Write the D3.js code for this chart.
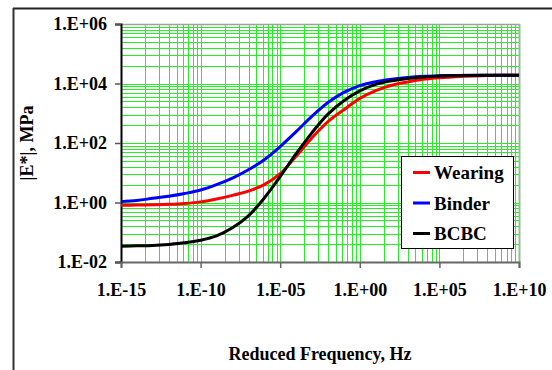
<!DOCTYPE html>
<html>
<head>
<meta charset="utf-8">
<script src="https://cdn.jsdelivr.net/npm/d3@7"></script>
<style>
html,body{margin:0;padding:0;background:#fff;}
svg{display:block;}
svg text{font-weight:bold;fill:#000;}
</style>
</head>
<body>
<svg id="chart" width="552" height="370"></svg>
<script>
// Reduced frequency (Hz) at each decade
const frequency = [1e-15,1e-14,1e-13,1e-12,1e-11,1e-10,1e-9,1e-8,1e-7,1e-6,1e-5,1e-4,1e-3,1e-2,1e-1,1e0,1e1,1e2,1e3,1e4,1e5,1e6,1e7,1e8,1e9,1e10];
// |E*| in MPa
const wearing = [0.81,0.82,0.84,0.87,0.93,1.05,1.32,1.74,2.4,4.0,9.3,36,151,525,1318,3162,5754,8710,11220,13800,15490,16980,17780,18620,19050,19050];
const binder  = [1.07,1.17,1.38,1.62,2.0,2.63,3.98,6.6,12.6,27.5,75.9,240,794,2291,5012,8511,11480,13800,15850,17380,18200,18620,19050,19050,19050,19050];
const bcbc    = [0.034,0.035,0.036,0.039,0.044,0.054,0.076,0.141,0.355,1.41,7.41,43.7,224,933,2630,5623,9333,12300,14790,16600,17780,18200,18620,19050,19050,19050];
const seriesNames = ["Wearing","Binder","BCBC"];
const seriesColors = ["#ff0000","#0000ff","#000000"];
const xTickValues = [1e-15,1e-10,1e-5,1e0,1e5,1e10];
const xTickLabels = ["1.E-15","1.E-10","1.E-05","1.E+00","1.E+05","1.E+10"];
const yTickValues = [1e-2,1e0,1e2,1e4,1e6];
const yTickLabels = ["1.E-02","1.E+00","1.E+02","1.E+04","1.E+06"];
const xTitle = "Reduced Frequency, Hz";
const yTitle = "|E*|, MPa";

const FONT = "'Liberation Serif','DejaVu Serif','Times New Roman',serif";
const svg = d3.select("#chart");
const L = 121, R = 519, T = 24, B = 262;
const x = d3.scaleLog().domain([1e-15,1e10]).range([L,R]);
const y = d3.scaleLog().domain([1e-2,1e6]).range([B,T]);

// outer frame
svg.append("line").attr("x1",13).attr("y1",8.5).attr("x2",552).attr("y2",8.5).attr("stroke","#222").attr("stroke-width",2);
svg.append("line").attr("x1",13.5).attr("y1",8).attr("x2",13.5).attr("y2",370).attr("stroke","#333").attr("stroke-width",2);

// grid: minor lines at k*major within each major interval
const grid = svg.append("g");
const gridColor = "#22f022";
function minorPositions(majors){
  const out = [];
  for (let i=0;i<majors.length-1;i++){
    const a = Math.log10(majors[i]), b = Math.log10(majors[i+1]);
    for (let k=1;k<=9;k++){
      out.push(Math.pow(10, a + (b-a)*Math.log10(k)));
    }
  }
  return out;
}
minorPositions(xTickValues).forEach(v=>{
  const px = Math.round(x(v))+0.5;
  grid.append("line").attr("x1",px).attr("x2",px).attr("y1",T).attr("y2",B).attr("stroke",gridColor).attr("stroke-width",1);
});
minorPositions(yTickValues).forEach(v=>{
  const py = Math.round(y(v))+0.5;
  grid.append("line").attr("x1",L).attr("x2",R).attr("y1",py).attr("y2",py).attr("stroke",gridColor).attr("stroke-width",1);
});
// plot border (top/right)
svg.append("line").attr("x1",L).attr("x2",R+1).attr("y1",T+0.5).attr("y2",T+0.5).attr("stroke","#a0a0a0").attr("stroke-width",1.5);
svg.append("line").attr("x1",R+0.5).attr("x2",R+0.5).attr("y1",T).attr("y2",B).attr("stroke","#8fc08f").attr("stroke-width",2);

// axes
const yAxis = d3.axisLeft(y).tickValues(yTickValues).tickFormat((d,i)=>yTickLabels[i]).tickSize(6).tickPadding(8);
const gy = svg.append("g").attr("transform",`translate(${L},0)`).call(yAxis).attr("font-family",FONT).attr("font-size",18);
gy.select(".domain").attr("stroke","#000").attr("stroke-width",2);
gy.selectAll(".tick line").attr("stroke","#555").attr("stroke-width",1.5);
gy.selectAll(".tick text").attr("fill","#000");

const xAxis = d3.axisBottom(x).tickValues(xTickValues).tickFormat((d,i)=>xTickLabels[i]).tickSize(6).tickPadding(15);
const gx = svg.append("g").attr("transform",`translate(0,${B})`).call(xAxis).attr("font-family",FONT).attr("font-size",18);
gx.select(".domain").attr("stroke","#666").attr("stroke-width",2);
gx.selectAll(".tick line").attr("stroke","#666").attr("stroke-width",1.5);
gx.selectAll(".tick text").attr("fill","#000");

// curves
const allSeries = [wearing, binder, bcbc];
const line = d3.line().x((d,i)=>x(frequency[i])).y(d=>y(d)).curve(d3.curveCatmullRom.alpha(0.5));
allSeries.forEach((s,i)=>{
  svg.append("path").datum(s).attr("d",line).attr("fill","none").attr("stroke",seriesColors[i]).attr("stroke-width",3);
});

// titles
svg.append("text").attr("x",(L+R)/2).attr("y",360).attr("text-anchor","middle").attr("font-family",FONT).style("font-size","18px").text(xTitle);
svg.append("text").attr("transform",`translate(33,${(T+B)/2}) rotate(-90)`).attr("text-anchor","middle").attr("font-family",FONT).style("font-size","18px").text(yTitle);

// legend
const lg = svg.append("g").attr("font-family",FONT);
lg.append("rect").attr("x",401.5).attr("y",156.5).attr("width",112).attr("height",92).attr("fill","#fff").attr("stroke","#000").attr("stroke-width",1);
seriesNames.forEach((n,i)=>{
  const cy = 172.5 + i*30.5;
  lg.append("line").attr("x1",413).attr("x2",430).attr("y1",cy).attr("y2",cy).attr("stroke",seriesColors[i]).attr("stroke-width",3);
  lg.append("text").attr("x",434).attr("y",cy).attr("dy","0.35em").style("font-size","19px").text(n);
});
</script>
</body>
</html>
